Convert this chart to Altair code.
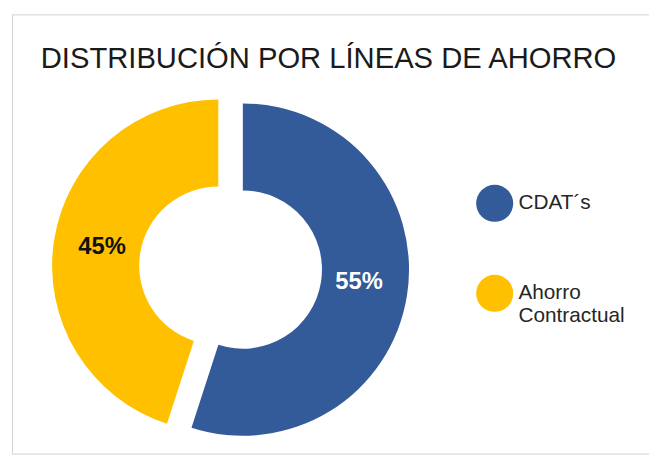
import altair as alt
import pandas as pd

# ---- data ----
title_text = "DISTRIBUCIÓN POR LÍNEAS DE AHORRO"
categories = ["CDAT´s", "Ahorro Contractual"]
values = [55, 45]
labels = ["55%", "45%"]
colors = ["#335A99", "#FFC000"]

df = pd.DataFrame({
    "category": categories,
    "value": values,
    "label": labels,
    "order": list(range(len(categories))),
})

# ---- layout / style ----
W, H = 644, 444
CX, CY = 221, 256
R_OUT, R_IN = 168, 80
R_LABEL = 119
FONT = "Liberation Sans"
explode = [(12.4, 2.0), (-12.4, -2.0)]
label_colors = ["#FFFFFF", "#111111"]
label_dy = [-6, 0]

base = (
    alt.Chart(df)
    .transform_joinaggregate(total="sum(value)")
    .transform_window(cum="sum(value)", sort=[alt.SortField("order")], frame=[None, 0])
    .transform_calculate(t1="2*PI*datum.cum/datum.total")
    .transform_calculate(t0="2*PI*(datum.cum-datum.value)/datum.total")
    .transform_calculate(tm="(datum.t0+datum.t1)/2")
)

color = alt.Color(
    "category:N",
    scale=alt.Scale(domain=categories, range=colors),
    sort=categories,
    legend=alt.Legend(
        title=None,
        orient="none",
        legendX=469,
        legendY=172,
        padding=0,
        symbolType="circle",
        symbolSize=1400,
        symbolStrokeWidth=0,
        symbolOpacity=1,
        labelFont=FONT,
        labelFontSize=21,
        labelColor="#262626",
        labelOffset=5,
        labelLimit=0,
        rowPadding=53,
        labelExpr="datum.label == 'Ahorro Contractual' ? ['Ahorro', 'Contractual'] : datum.label",
    ),
)

layers = []
for i, cat in enumerate(categories):
    dx, dy = explode[i]
    sub = base.transform_filter(alt.datum.category == cat)
    arc = sub.mark_arc(
        outerRadius=R_OUT, innerRadius=R_IN, xOffset=dx, yOffset=dy, stroke=None
    ).encode(
        x=alt.value(CX),
        y=alt.value(CY),
        theta=alt.Theta("t0:Q", scale=None),
        theta2="t1:Q",
        color=color,
    )
    txt = sub.mark_text(
        radius=R_LABEL,
        font=FONT,
        fontSize=24,
        fontWeight="bold",
        color=label_colors[i],
        dx=dx,
        dy=dy + label_dy[i],
        align="center",
        baseline="middle",
    ).encode(
        x=alt.value(CX),
        y=alt.value(CY),
        theta=alt.Theta("tm:Q", scale=None),
        text="label:N",
    )
    layers += [arc, txt]

title = alt.Chart(alt.Data(values=[{}])).mark_text(
    font=FONT, fontSize=29.5, color="#1a1a1a", align="center", baseline="alphabetic"
).encode(
    x=alt.value(320),
    y=alt.value(54),
    text=alt.value(title_text),
)

chart = (
    alt.layer(*layers, title)
    .properties(
        width=W,
        height=H,
        padding={"left": 4, "top": 4, "right": 0, "bottom": 0},
        autosize=alt.AutoSizeParams(type="none"),
        background="white",
    )
    .configure_view(stroke="#D0D0D0", strokeWidth=1)
)

chart.save("out.html", embed_options={"renderer": "svg", "actions": False})
